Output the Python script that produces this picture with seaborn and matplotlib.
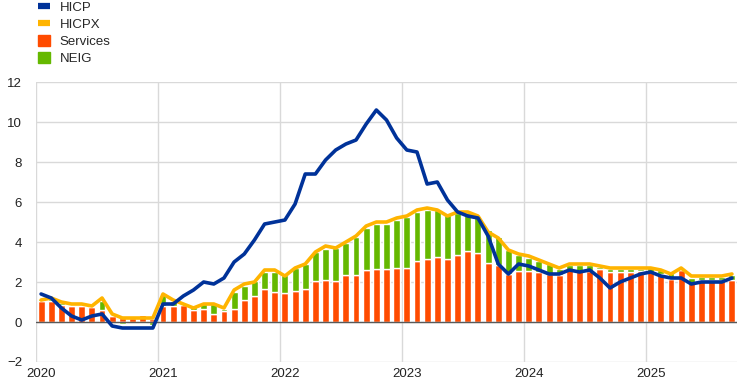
import numpy as np
import pandas as pd
import matplotlib
matplotlib.use("Agg")
import matplotlib.pyplot as plt
from matplotlib.lines import Line2D
from matplotlib.patches import Patch
import seaborn as sns

# monthly data, Jan 2020 - Sep 2025 (annual % change / contributions in pp)
hicp = [1.4, 1.2, 0.7, 0.3, 0.1, 0.3, 0.4, -0.2, -0.3, -0.3, -0.3, -0.3,
        0.9, 0.9, 1.3, 1.6, 2.0, 1.9, 2.2, 3.0, 3.4, 4.1, 4.9, 5.0,
        5.1, 5.9, 7.4, 7.4, 8.1, 8.6, 8.9, 9.1, 9.9, 10.6, 10.1, 9.2,
        8.6, 8.5, 6.9, 7.0, 6.1, 5.5, 5.3, 5.2, 4.3, 2.9, 2.4, 2.9,
        2.8, 2.6, 2.4, 2.4, 2.6, 2.5, 2.6, 2.2, 1.7, 2.0, 2.2, 2.4,
        2.5, 2.3, 2.2, 2.2, 1.9, 2.0, 2.0, 2.0, 2.2]
hicpx = [1.1, 1.2, 1.0, 0.9, 0.9, 0.8, 1.2, 0.4, 0.2, 0.2, 0.2, 0.2,
         1.4, 1.1, 0.9, 0.7, 0.9, 0.9, 0.7, 1.6, 1.9, 2.0, 2.6, 2.6,
         2.3, 2.7, 2.9, 3.5, 3.8, 3.7, 4.0, 4.3, 4.8, 5.0, 5.0, 5.2,
         5.3, 5.6, 5.7, 5.6, 5.3, 5.5, 5.5, 5.3, 4.5, 4.2, 3.6, 3.4,
         3.3, 3.1, 2.9, 2.7, 2.9, 2.9, 2.9, 2.8, 2.7, 2.7, 2.7, 2.7,
         2.7, 2.6, 2.4, 2.7, 2.3, 2.3, 2.3, 2.3, 2.4]
services = [1.03, 1.03, 0.85, 0.80, 0.80, 0.73, 0.62, 0.30, 0.22, 0.22, 0.35, 0.15,
            0.78, 0.78, 0.83, 0.58, 0.67, 0.42, 0.53, 0.67, 1.08, 1.28, 1.67, 1.50,
            1.47, 1.53, 1.67, 2.03, 2.12, 2.05, 2.33, 2.37, 2.62, 2.67, 2.63, 2.72,
            2.72, 3.03, 3.13, 3.23, 3.13, 3.37, 3.55, 3.47, 2.97, 2.87, 2.42, 2.53,
            2.53, 2.50, 2.42, 2.33, 2.62, 2.55, 2.55, 2.67, 2.50, 2.50, 2.50, 2.53,
            2.50, 2.42, 2.17, 2.58, 1.95, 2.12, 2.12, 2.12, 2.12]
neig = [0.10, 0.12, 0.08, 0.05, 0.05, 0.05, 0.45, 0.05, -0.08, 0.02, -0.05, -0.15,
        0.64, 0.27, 0.12, 0.17, 0.21, 0.48, 0.14, 0.83, 0.70, 0.75, 0.83, 1.00,
        0.86, 1.19, 1.25, 1.47, 1.55, 1.65, 1.64, 1.88, 2.08, 2.25, 2.29, 2.40,
        2.53, 2.47, 2.45, 2.35, 2.20, 2.10, 1.92, 1.81, 1.61, 1.38, 1.16, 0.80,
        0.67, 0.53, 0.50, 0.30, 0.21, 0.28, 0.28, 0.08, 0.17, 0.17, 0.17, 0.14,
        0.20, 0.16, 0.28, 0.14, 0.25, 0.13, 0.13, 0.13, 0.25]
years = ["2020", "2021", "2022", "2023", "2024", "2025"]

df = pd.DataFrame({"HICP": hicp, "HICPX": hicpx,
                   "Services": services, "NEIG": neig})
df["x"] = np.arange(len(df)) + 0.5
# negative NEIG stacks down from zero
df["neig_bottom"] = np.where(df["NEIG"] >= 0, df["Services"], 0)

C_HICP = "#003299"
C_HICPX = "#FFB400"
C_SERV = "#FF4B00"
C_NEIG = "#65B800"

sns.set_style("white")
plt.rcParams["font.family"] = ["Liberation Sans", "DejaVu Sans"]

fig = plt.figure(figsize=(7.44, 3.90), dpi=100)
ax = fig.add_axes([0.0484, 0.0718, 0.9422, 0.7179])

ax.bar(df["x"], df["Services"], width=0.68, color=C_SERV, zorder=2)
ax.bar(df["x"], df["NEIG"], bottom=df["neig_bottom"], width=0.68,
       color=C_NEIG, zorder=2)
sns.lineplot(data=df, x="x", y="HICPX", color=C_HICPX, linewidth=2.6,
             ax=ax, zorder=4)
sns.lineplot(data=df, x="x", y="HICP", color=C_HICP, linewidth=2.6,
             ax=ax, zorder=5)

ax.axhline(0, color="#595959", linewidth=1.0, zorder=3)

ax.set_xlim(0, len(df))
ax.set_ylim(-2, 12)
ax.set_yticks(np.arange(-2, 13, 2))
ax.set_xticks(np.arange(0, len(df), 12))
ax.set_xticklabels([])
ax.set_xticks(np.arange(0, len(df), 12) + 0.5, minor=True)
ax.set_xticklabels(years, minor=True)
ax.grid(True, which="major", color="#d9d9d9", linewidth=1.0, zorder=0)
ax.set_axisbelow(True)
for s in ax.spines.values():
    s.set_visible(False)
ax.tick_params(axis="both", which="both", length=0, labelsize=9.5,
               labelcolor="#222222")
ax.tick_params(axis="y", pad=10)
ax.tick_params(axis="x", which="minor", pad=4)
ax.set_xlabel("")
ax.set_ylabel("")

handles = [Line2D([0], [0], color=C_HICP, linewidth=4.5, solid_capstyle="butt"),
           Line2D([0], [0], color=C_HICPX, linewidth=4.5, solid_capstyle="butt"),
           Patch(color=C_SERV), Patch(color=C_NEIG)]
fig.legend(handles, ["HICP", "HICPX", "Services", "NEIG"],
           loc="upper left", bbox_to_anchor=(0.040, 1.018), frameon=False,
           fontsize=9.5, handlelength=0.9, handleheight=0.9,
           handletextpad=0.75, labelspacing=0.30, borderaxespad=0.2)

fig.savefig("out.png", dpi=100)
